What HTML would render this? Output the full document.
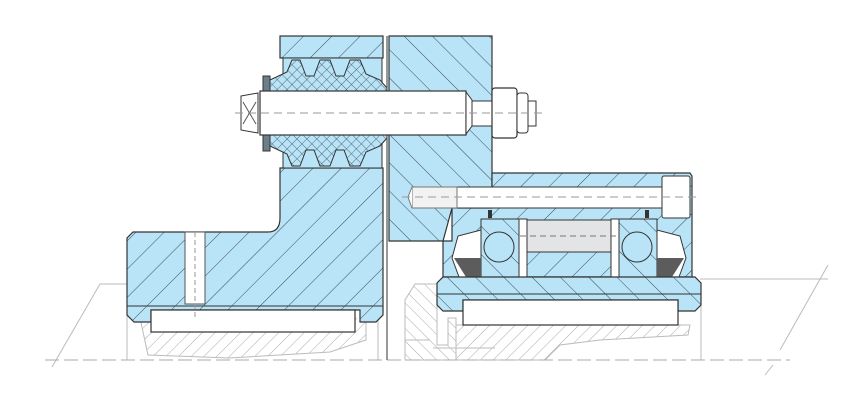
<!DOCTYPE html>
<html><head><meta charset="utf-8"><style>
html,body{margin:0;padding:0;background:#fff;width:865px;height:415px;overflow:hidden}
svg{display:block}
</style></head><body>
<svg width="865" height="415" viewBox="0 0 865 415" xmlns="http://www.w3.org/2000/svg">
<defs>
<pattern id="h1" patternUnits="userSpaceOnUse" width="20" height="20" patternTransform="rotate(45)">
<rect width="20" height="20" fill="#b9e4f7"/><line x1="0" y1="0" x2="0" y2="20" stroke="#3a4a55" stroke-width="1"/></pattern>
<pattern id="h2" patternUnits="userSpaceOnUse" width="20" height="20" patternTransform="rotate(-45)">
<rect width="20" height="20" fill="#b9e4f7"/><line x1="0" y1="0" x2="0" y2="20" stroke="#3a4a55" stroke-width="1"/></pattern>
<pattern id="g1" patternUnits="userSpaceOnUse" width="9" height="9" patternTransform="rotate(45)">
<rect width="9" height="9" fill="#fff"/><line x1="0" y1="0" x2="0" y2="9" stroke="#aaa" stroke-width="1"/></pattern>
<pattern id="g2" patternUnits="userSpaceOnUse" width="9" height="9" patternTransform="rotate(-45)">
<rect width="9" height="9" fill="#fff"/><line x1="0" y1="0" x2="0" y2="9" stroke="#aaa" stroke-width="1"/></pattern>
<pattern id="x" patternUnits="userSpaceOnUse" width="7" height="7" patternTransform="rotate(45)">
<rect width="7" height="7" fill="#b9e4f7"/><line x1="0" y1="0" x2="0" y2="7" stroke="#3a4a55" stroke-width="0.8"/><line x1="0" y1="0" x2="7" y2="0" stroke="#3a4a55" stroke-width="0.8"/></pattern>
</defs>

<g stroke="#bbb" stroke-width="1" fill="none">
<polyline points="52,367 100,284 127,284"/>
<line x1="127" y1="284" x2="127" y2="360"/>
<path d="M140 318 L148 355 L230 358 L330 352 L366 340 L366 318" fill="url(#g1)"/>
<line x1="378" y1="300" x2="378" y2="360"/>
<path d="M405 300 L415 284 L437 284 L437 345 L448 345 L448 318 L456 318 L456 360 L405 360 Z" fill="url(#g2)"/>
<path d="M456 325 L690 325 L688 335 L600 340 L560 345 L545 360 L456 360 Z" fill="url(#g1)"/>
<line x1="700" y1="279" x2="828" y2="279"/>
<line x1="701" y1="295" x2="701" y2="360"/>
<line x1="828" y1="265" x2="780" y2="350"/>
<line x1="773" y1="365" x2="765" y2="375"/>
<line x1="405" y1="340" x2="430" y2="340"/>
<line x1="433" y1="348" x2="495" y2="348"/>
</g>
<line x1="45" y1="360" x2="790" y2="360" stroke="#aaa" stroke-width="1" stroke-dasharray="14,5"/>

<path d="M280 168 L383 168 L383 315 L376 322 L360 322 L360 310 L151 310 L151 322 L134 322 L127 315 L127 238 L133 232 L268 232 Q280 232 280 218 Z" fill="url(#h1)" stroke="#333" stroke-width="1.2"/>
<line x1="127" y1="306" x2="383" y2="306" stroke="#333"/>
<rect x="151" y="310" width="204" height="22" fill="#fff" stroke="#333" stroke-width="1.2"/>
<rect x="185" y="232" width="20" height="72" fill="#fff" stroke="#555"/>
<line x1="195" y1="232" x2="195" y2="320" stroke="#999" stroke-dasharray="5,3"/>
<rect x="280" y="36" width="103" height="22" fill="url(#h1)" stroke="#333" stroke-width="1.2"/>
<!-- elastic -->
<rect x="283" y="58" width="99" height="110" fill="#b9e4f7" stroke="#333"/>
<path d="M270 91 L270 80 L287 72 L292 60 L300 60 L306 76 L314 76 L320 60 L330 60 L336 76 L344 76 L350 60 L360 60 L366 74 L380 80 L387 88 L387 91 Z" fill="url(#x)" stroke="#333"/>
<path d="M270 135 L270 146 L287 154 L292 166 L300 166 L306 150 L314 150 L320 166 L330 166 L336 150 L344 150 L350 166 L360 166 L366 152 L380 146 L387 138 L387 135 Z" fill="url(#x)" stroke="#333"/>
<rect x="263" y="76" width="7" height="75" fill="#6b7f8a" stroke="#333"/>
<line x1="387" y1="36" x2="387" y2="360" stroke="#555" stroke-width="1.2"/>
<path d="M389 36 L492 36 L492 173 L492 208 L452 208 L443 241 L389 241 Z" fill="url(#h2)" stroke="#333" stroke-width="1.2"/>
<path d="M389 241 L443 241 L443 277" fill="none" stroke="#333"/>
<path d="M241 96 L258 93 L258 133 L241 130 Z" fill="#fff" stroke="#333"/>
<path d="M243 102 L256 124 M256 102 L243 124" stroke="#555"/>
<rect x="260" y="91" width="206" height="44" fill="#fff" stroke="#333" stroke-width="1.2"/>
<path d="M466 92 L472 100 L472 126 L466 134 Z" fill="#fff" stroke="#333"/>
<rect x="472" y="101" width="64" height="25" fill="#fff" stroke="#333"/>
<rect x="492" y="88" width="25" height="50" rx="3" fill="#fff" stroke="#333" stroke-width="1.2"/>
<rect x="517" y="93" width="11" height="40" rx="3" fill="#fff" stroke="#333"/>
<line x1="235" y1="113" x2="545" y2="113" stroke="#999" stroke-dasharray="8,5"/>
<path d="M492 173 L690 173 L692 176 L692 277 L443 277 L443 241 L452 241 L452 208 L492 208 Z" fill="url(#h1)" stroke="#333" stroke-width="1.2"/>
<rect x="440" y="187" width="222" height="21" fill="#fff" stroke="#333"/>
<rect x="412" y="187" width="45" height="21" fill="#f2f2f2" stroke="#777"/>
<path d="M412 187 L408 197 L412 208" fill="#fff" stroke="#777"/>
<rect x="662" y="176" width="28" height="42" rx="2" fill="#fff" stroke="#333"/>
<line x1="402" y1="197" x2="700" y2="197" stroke="#999" stroke-dasharray="8,5"/>
<rect x="481" y="219" width="39" height="58" fill="url(#h2)" stroke="#333"/>
<rect x="618" y="219" width="39" height="58" fill="url(#h2)" stroke="#333"/>
<circle cx="499" cy="247" r="15" fill="#b9e4f7" stroke="#333"/>
<circle cx="637" cy="247" r="15" fill="#b9e4f7" stroke="#333"/>
<rect x="519" y="219" width="8" height="58" fill="#fff" stroke="#333"/>
<rect x="611" y="219" width="8" height="58" fill="#fff" stroke="#333"/>
<rect x="527" y="220" width="84" height="32" fill="#e3e4e5" stroke="#333"/>
<line x1="520" y1="236" x2="620" y2="236" stroke="#777" stroke-dasharray="6,4"/>
<path d="M459 277 L452 258 L458 236 L481 230 L481 277 Z" fill="#fff" stroke="#333"/>
<path d="M454 258 L466 277 L481 277 L481 258 L470 258 Z" fill="#5c5c5c"/>
<path d="M679 277 L686 258 L680 236 L657 230 L657 277 Z" fill="#fff" stroke="#333"/>
<path d="M684 258 L672 277 L657 277 L657 258 L668 258 Z" fill="#5c5c5c"/>
<rect x="488" y="210" width="4" height="8" fill="#333"/>
<rect x="645" y="210" width="4" height="8" fill="#333"/>
<path d="M443 277 L695 277 L701 283 L701 305 L695 311 L678 311 L678 300 L463 300 L463 311 L443 311 L437 305 L437 283 Z" fill="url(#h2)" stroke="#333" stroke-width="1.2"/>
<line x1="437" y1="294" x2="701" y2="294" stroke="#333"/>
<rect x="463" y="300" width="215" height="25" fill="#fff" stroke="#333" stroke-width="1.2"/>
</svg>
</body></html>
